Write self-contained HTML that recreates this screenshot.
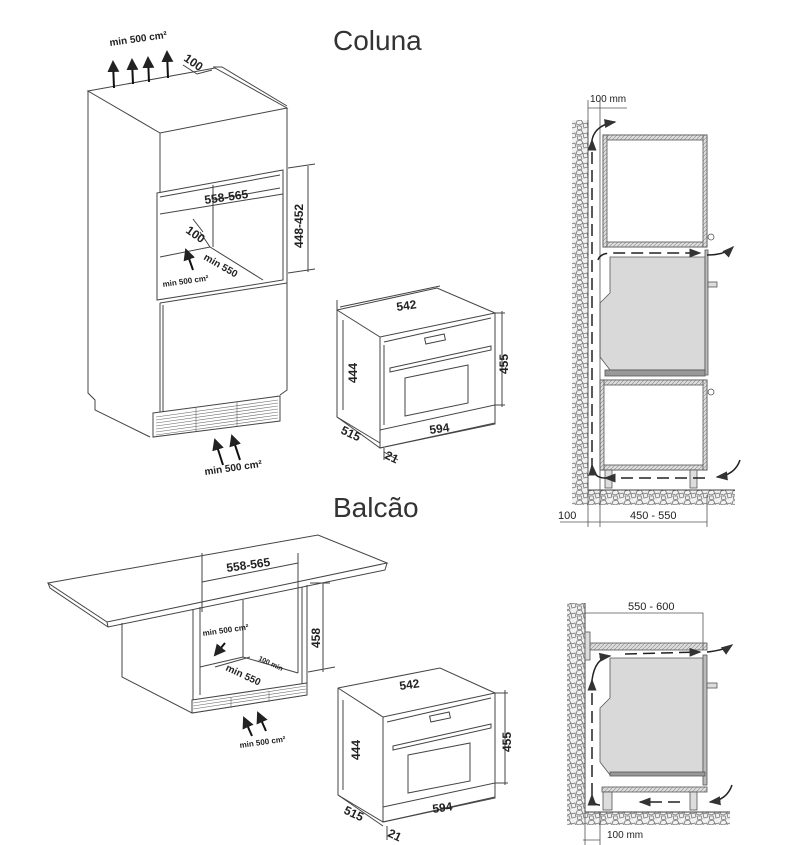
<!DOCTYPE html>
<html><head><meta charset="utf-8"><style>
html,body{margin:0;padding:0;background:#fff}
svg{display:block}
text{font-family:"Liberation Sans",sans-serif;fill:#222}
.b{font-weight:bold;font-size:10px}
.d{font-weight:bold;font-size:12px}
</style></head><body>
<svg width="800" height="845" viewBox="0 0 800 845" xmlns="http://www.w3.org/2000/svg">
<defs>
<pattern id="stone" width="12" height="10" patternUnits="userSpaceOnUse">
<rect width="12" height="10" fill="#f2f2f2"/>
<path d="M1 1 L5 0 L7 3 L4 5 L0 4 Z M7 4 L11 3 L12 7 L8 8 Z M1 6 L5 6 L6 9 L2 10 Z" fill="none" stroke="#777" stroke-width="0.8"/>
</pattern>
<pattern id="hat" width="4" height="4" patternUnits="userSpaceOnUse">
<rect width="4" height="4" fill="#ddd"/><path d="M0 4 L4 0" stroke="#888" stroke-width="0.6"/>
</pattern>
<marker id="ar" markerWidth="6" markerHeight="6" refX="5" refY="3" orient="auto"><path d="M0 0 L6 3 L0 6 Z" fill="#222"/></marker>
<marker id="sa" markerWidth="8" markerHeight="8" refX="7" refY="4" orient="auto"><path d="M0 1 L8 4 L0 7 Z" fill="#333"/></marker>
</defs>

<text x="333" y="50" font-size="28" style="fill:#333">Coluna</text>
<text x="333" y="517" font-size="28" style="fill:#333">Balcão</text>

<g fill="none" stroke="#444" stroke-width="1">
<polygon points="88,91 215,68 287,108 160,133" fill="#fff"/>
<path d="M213,67 L222,67 L287,106"/>
<path d="M88,91 L88,393 L95,400 L95,410 L150,437"/>
<path d="M160,133 L160,193 M287,108 L287,390 L280,395"/>
<polygon points="157,193 283,170 283,280 157,300"/>
<path d="M160,197 L280,175"/>
<path d="M213,185 L213,247 M160,257 L210,247 L263,280 M213,200 L280,188"/>
<path d="M160,303 L287,283 M160,303 L160,412 M163,305 L163,412"/>
<polygon points="153,413 280,396 280,421 153,437" fill="#fff"/>
<g stroke="#666" stroke-width="0.6">
<path d="M156,417 L278,400 M156,420 L278,403 M156,423 L278,406 M156,426 L278,409 M156,429 L278,412 M156,432 L278,415 M156,435 L278,418"/>
<path d="M196,408 L196,431 M237,402 L237,426"/>
</g>
<path d="M288,168 L315,164 M288,273 L315,269 M308,166 L308,272"/>
<path d="M160,214 L283,194" />
<path d="M193,219 L203,232 M200,232 L210,247"/>
<path d="M183,65 L197,74 L212,70"/>

<path d="M337,310 L437,288 L495,313 M337,310 L380,337 L495,313 L495,405 L380,430 L380,337 M337,310 L337,417 L380,443 M380,430 L380,448 L495,424 L495,405"/>
<path d="M384,342 L491,318 M384,425 L384,345"/>
<rect x="425" y="336" width="20" height="6" transform="rotate(-12 435 339)"/>
<path d="M390,368 L491,346 L491,350 L390,372 Z"/>
<polygon points="405,378 468,365 468,403 405,416"/>
<path d="M337,310 L337,300 M495,313 L505,313 M495,405 L505,405 M502,311 L502,407 M343,320 L343,410 M380,448 L495,423 M337,417 L380,448 M384,448 L384,460 M384,452 L398,460"/>
<path d="M340,307 L440,286"/>

<polygon points="48,583 318,535 387,563 107,622" fill="#fff"/>
<path d="M48,583 L50,588 L108,627 L385,570 L387,563 M107,622 L108,627"/>
<path d="M122,623 L122,677 L192,713 L307,695 L307,585"/>
<path d="M193,610 L193,713 M200,607 L200,695 M298,588 L298,673 M302,587 L302,690"/>
<polygon points="192,700 307,683 307,695 192,713" fill="#fff"/>
<g stroke="#666" stroke-width="0.6"><path d="M193,703 L306,686 M193,706 L306,689 M193,709 L306,692 M231,697 L231,708 M269,691 L269,702"/></g>
<path d="M243,600 L243,657 M200,667 L243,657 L298,673 M215,667 L250,657"/>
<path d="M202,553 L202,612 M298,553 L298,590 M202,582 L298,563"/>
<path d="M310,583 L330,583 M308,672 L335,667 M323,583 L323,672"/>

<path d="M338,688 L440,668 L495,693 M338,688 L383,717 L495,693 L495,783 L383,807 L383,717 M338,688 L338,795 L383,822 M383,807 L383,822 L495,798 L495,783"/>
<path d="M387,722 L491,698"/>
<rect x="430" y="714" width="20" height="6" transform="rotate(-12 440 717)"/>
<path d="M393,746 L491,724 L491,728 L393,750 Z"/>
<polygon points="408,755 470,743 470,781 408,793"/>
<path d="M495,693 L508,693 M495,783 L508,783 M505,690 L505,785 M343,700 L343,790 M383,822 L495,797 M387,826 L387,840 M338,795 L383,826"/>
</g>

<g stroke="#111" stroke-width="2" fill="none" marker-end="url(#ar)">
<path d="M114,88 L113,62"/><path d="M133,84 L132,60"/><path d="M149,82 L148,58"/><path d="M168,78 L167,52"/>
<path d="M223,465 L215,440"/><path d="M240,460 L232,436"/>
<path d="M193,270 L186,250"/>
<path d="M252,736 L244,718"/><path d="M266,731 L258,713"/>
<path d="M225,643 L215,655"/>
</g>

<text class="b" x="110" y="46" transform="rotate(-8 110 46)">min 500 cm²</text>
<text class="d" x="183" y="60" transform="rotate(35 183 60)">100</text>
<text class="d" x="205" y="204" transform="rotate(-8 205 204)">558-565</text>
<text class="d" x="303" y="248" transform="rotate(-90 303 248)">448-452</text>
<text class="d" x="185" y="232" transform="rotate(35 185 232)">100</text>
<text class="b" x="203" y="259" transform="rotate(30 203 259)">min 550</text>
<text class="b" x="163" y="287" transform="rotate(-8 163 287)" style="font-size:8px">min 500 cm²</text>
<text class="b" x="205" y="475" transform="rotate(-8 205 475)">min 500 cm²</text>
<text class="d" x="397" y="311" transform="rotate(-8 397 311)">542</text>
<text class="d" x="357" y="383" transform="rotate(-90 357 383)">444</text>
<text class="d" x="508" y="374" transform="rotate(-90 508 374)">455</text>
<text class="d" x="430" y="434" transform="rotate(-8 430 434)">594</text>
<text class="d" x="340" y="433" transform="rotate(25 340 433)">515</text>
<text class="d" x="384" y="458" transform="rotate(25 384 458)">21</text>

<text class="d" x="227" y="572" transform="rotate(-8 227 572)">558-565</text>
<text class="d" x="320" y="648" transform="rotate(-90 320 648)">458</text>
<text class="b" x="203" y="636" transform="rotate(-8 203 636)" style="font-size:8px">min 500 cm²</text>
<text class="b" x="258" y="660" transform="rotate(25 258 660)" style="font-size:7px">100 min</text>
<text class="b" x="225" y="670" transform="rotate(25 225 670)">min 550</text>
<text class="b" x="240" y="748" transform="rotate(-8 240 748)" style="font-size:8px">min 500 cm²</text>
<text class="d" x="400" y="690" transform="rotate(-8 400 690)">542</text>
<text class="d" x="360" y="760" transform="rotate(-90 360 760)">444</text>
<text class="d" x="511" y="752" transform="rotate(-90 511 752)">455</text>
<text class="d" x="433" y="813" transform="rotate(-8 433 813)">594</text>
<text class="d" x="343" y="813" transform="rotate(25 343 813)">515</text>
<text class="d" x="387" y="836" transform="rotate(25 387 836)">21</text>

<rect x="572" y="120" width="16" height="372" fill="url(#stone)"/>
<rect x="572" y="490" width="163" height="15" fill="url(#stone)"/>
<path d="M588,120 L588,490 L735,490" stroke="#444" fill="none"/>
<g stroke="#555" stroke-width="0.8">
<rect x="603" y="135" width="104" height="112" fill="none"/>
<rect x="603" y="135" width="104" height="5" fill="url(#hat)"/>
<rect x="603" y="242" width="104" height="5" fill="url(#hat)"/>
<rect x="603" y="135" width="4" height="112" fill="url(#hat)"/>
<rect x="703" y="135" width="4" height="112" fill="url(#hat)"/>
<polygon points="610,257 705,257 705,370 610,370 600,357 600,303 610,293" fill="#d9d9d9"/>
<rect x="705" y="250" width="3" height="125" fill="#bbb"/>
<rect x="708" y="282" width="9" height="5" fill="#ddd"/>
<rect x="605" y="370" width="100" height="6" fill="#999"/>
<rect x="600" y="380" width="107" height="90" fill="none"/>
<rect x="600" y="380" width="107" height="5" fill="url(#hat)"/>
<rect x="600" y="465" width="107" height="5" fill="url(#hat)"/>
<rect x="600" y="380" width="4" height="90" fill="url(#hat)"/>
<rect x="703" y="380" width="4" height="90" fill="url(#hat)"/>
<rect x="605" y="470" width="7" height="18" fill="#ddd"/>
<rect x="690" y="470" width="7" height="18" fill="#ddd"/>
<circle cx="711" cy="237" r="3" fill="none"/><circle cx="711" cy="392" r="3" fill="none"/>
<path d="M560,522 L707,522 M588,108 L627,108 M588,100 L588,527 M600,100 L600,527 M707,495 L707,527" fill="none"/>
</g>
<g stroke="#222" stroke-width="1.5" fill="none" marker-end="url(#sa)">
<path d="M592,470 L592,140" stroke-dasharray="12,6"/>
<path d="M592,140 Q595,125 615,122"/>
<path d="M598,260 Q600,253 612,253 L700,253" stroke-dasharray="12,6"/>
<path d="M707,255 Q725,255 733,247"/>
<path d="M740,460 Q735,475 717,477"/>
<path d="M705,478 L605,478" stroke-dasharray="12,6"/>
<path d="M605,478 Q593,478 592,465"/>
</g>
<text x="590" y="102" font-size="10">100 mm</text>
<text x="558" y="519" font-size="11">100</text>
<text x="630" y="519" font-size="11">450 - 550</text>

<rect x="567" y="603" width="18" height="211" fill="url(#stone)"/>
<rect x="567" y="812" width="163" height="13" fill="url(#stone)"/>
<path d="M585,603 L585,812 L730,812" stroke="#444" fill="none"/>
<g stroke="#555" stroke-width="0.8">
<rect x="585" y="643" width="122" height="7" fill="url(#hat)"/>
<rect x="585" y="632" width="5" height="28" fill="#ddd"/>
<polygon points="610,658 703,658 703,775 610,775 600,762 600,708 610,698" fill="#d9d9d9"/>
<rect x="703" y="655" width="4" height="130" fill="#bbb"/>
<rect x="707" y="683" width="10" height="5" fill="#ddd"/>
<rect x="610" y="772" width="95" height="4" fill="#999"/>
<rect x="602" y="787" width="105" height="5" fill="url(#hat)"/>
<rect x="603" y="792" width="9" height="18" fill="#ddd"/>
<rect x="690" y="792" width="7" height="18" fill="#ddd"/>
<path d="M585,613 L703,613 L703,650 M583,840 L600,840 M585,812 L585,845 M600,812 L600,845" fill="none"/>
</g>
<g stroke="#222" stroke-width="1.5" fill="none" marker-end="url(#sa)">
<path d="M592,795 L592,680" stroke-dasharray="12,6"/>
<path d="M592,680 Q595,658 610,656"/>
<path d="M625,654 L700,652" stroke-dasharray="12,6"/>
<path d="M707,652 Q725,650 732,645"/>
<path d="M732,785 Q727,800 710,802"/>
<path d="M680,802 L640,802" stroke-dasharray="12,6"/>
<path d="M600,805 Q592,805 592,795"/>
</g>
<text x="628" y="610" font-size="11">550 - 600</text>
<text x="607" y="838" font-size="10">100 mm</text>
</svg>
</body></html>
